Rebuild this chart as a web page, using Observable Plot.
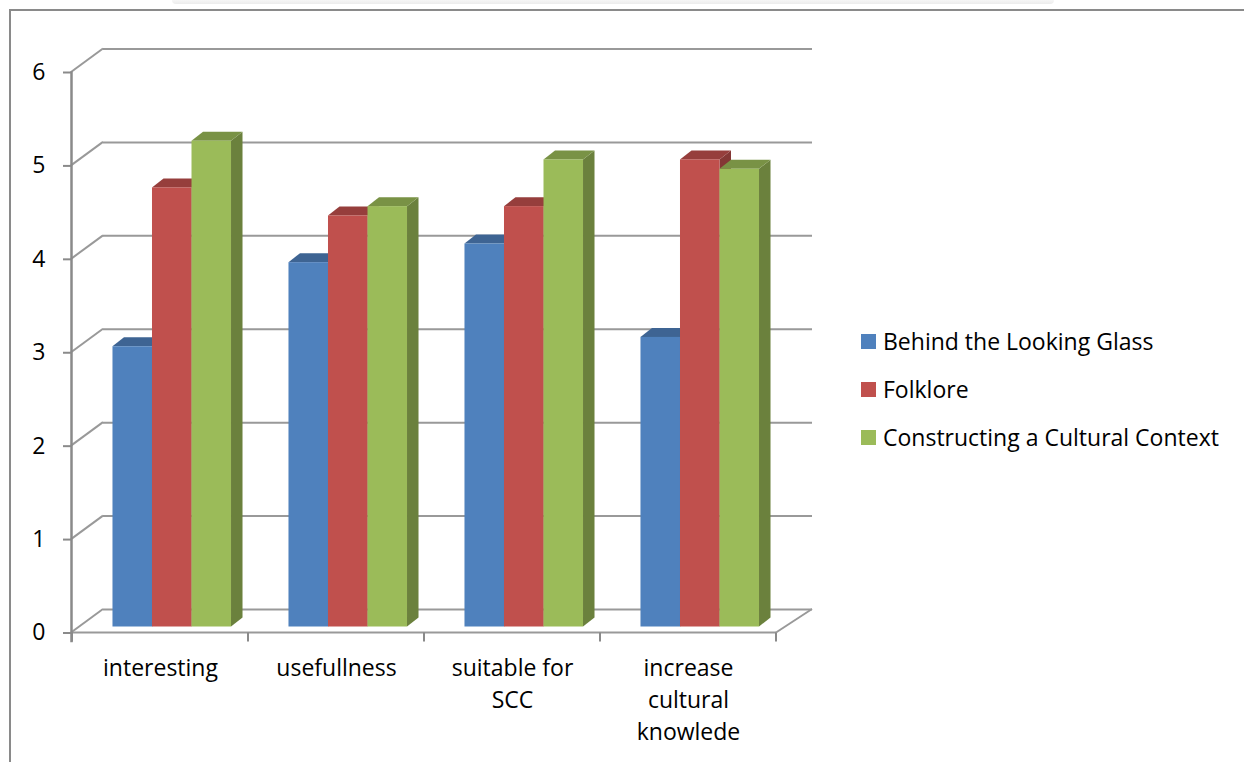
<!DOCTYPE html>
<html>
<head>
<meta charset="utf-8">
<script src="https://cdn.jsdelivr.net/npm/d3@7"></script>
<script src="https://cdn.jsdelivr.net/npm/@observablehq/plot@0.6"></script>
<style>
  html, body { margin: 0; padding: 0; background: #fff; }
  #wrap { position: relative; width: 1244px; height: 762px; overflow: hidden; font-family: "Open Sans", sans-serif; }
  #border { position: absolute; left: 9px; top: 9px; width: 1300px; height: 800px; border-left: 2px solid #8a8a8a; border-top: 2px solid #8a8a8a; }
  #shadow { position: absolute; left: 172px; top: 0; width: 882px; height: 4px; background: linear-gradient(#f6f6f6, #ececec); border-radius: 0 0 6px 6px; }
  #chart { position: absolute; left: 0; top: 0; }
  #legend { position: absolute; left: 861px; top: 0; }
  .item { position: absolute; left: 0; white-space: nowrap; font-size: 23px; color: #000; display: flex; align-items: center; height: 30px; }
  .sw { width: 15px; height: 15px; margin-right: 7px; flex: none; }
</style>
</head>
<body>
<div id="wrap">
  <div id="shadow"></div>
  <div id="border"></div>
  <div id="chart"></div>
  <div id="legend"></div>
</div>
<script>
// ---- data ----
const categories = ["interesting", "usefullness", "suitable for SCC", "increase cultural knowlede"];
const tickLabels = ["interesting", "usefullness", "suitable for\nSCC", "increase\ncultural\nknowlede"];
const seriesNames = ["Behind the Looking Glass", "Folklore", "Constructing a Cultural Context"];
const behindValues = [3.0, 3.9, 4.1, 3.1];
const folkloreValues = [4.7, 4.4, 4.5, 5.0];
const constructingValues = [5.2, 4.5, 5.0, 4.9];
const yTicks = [0, 1, 2, 3, 4, 5, 6];
const seriesColors = ["#4F81BD", "#C0504D", "#9BBB59"];

const seriesValues = [behindValues, folkloreValues, constructingValues];
const data = [];
categories.forEach((c, ci) => {
  seriesNames.forEach((s, si) => {
    data.push({category: c, series: s, si, value: seriesValues[si][ci]});
  });
});

// ---- geometry of the pseudo-3D look ----
const wallDx = 32, wallDy = -23.5;   // back wall offset
const barDx = 11.5, barDy = -9;      // bar depth
const barPlaneDy = -6;               // bars stand slightly behind the front edge
const gridColor = "#999999";
const axisColor = "#8a8a8a";
const svgNS = "http://www.w3.org/2000/svg";

function el(tag, attrs) {
  const e = document.createElementNS(svgNS, tag);
  for (const k in attrs) e.setAttribute(k, attrs[k]);
  return e;
}
function bandwidthOf(s) {
  return typeof s.bandwidth === "function" ? s.bandwidth() : s.bandwidth;
}

// left wall diagonals + floor edges
const wallMark = Plot.ruleY(yTicks, {
  render(index, scales, values, dims) {
    const g = el("g", {stroke: gridColor, "stroke-width": 2, fill: "none"});
    const x0 = dims.marginLeft;
    const x1 = dims.width - dims.marginRight;
    for (const i of index) {
      const y = scales.y(yTicks[i]);
      g.appendChild(el("line", {x1: x0, y1: y, x2: x0 + wallDx, y2: y + wallDy}));
    }
    const y0 = scales.y(0);
    g.appendChild(el("line", {x1: x0, y1: y0, x2: x1, y2: y0}));
    g.appendChild(el("line", {x1: x1, y1: y0, x2: x1 + wallDx + 4, y2: y0 + wallDy}));
    return g;
  }
});

// category boundary ticks on the front floor edge
const xTickMark = Plot.ruleX(categories, {
  render(index, scales, values, dims) {
    const g = el("g", {stroke: axisColor, "stroke-width": 2});
    const y0 = scales.y(0);
    const bw = bandwidthOf(scales.x);
    const xs = categories.map(c => scales.x(c));
    xs.push(xs[xs.length - 1] + bw);
    for (const x of xs) g.appendChild(el("line", {x1: x, y1: y0, x2: x, y2: y0 + 9}));
    return g;
  }
});

// 3D bars
const barMark = Plot.barY(data, {
  x: "category", y: "value", fill: "series",
  render(index, scales, values, dims) {
    const g = el("g", {});
    const bw = bandwidthOf(scales.x);
    const barW = bw * 0.2245;
    const offset = bw * 0.23;
    for (const i of index) {
      const d = data[i];
      const base = d3.color(scales.color(d.series));
      const top = base.darker(0.7).formatHex();
      const side = base.darker(1.05).formatHex();
      const xl = scales.x(d.category) + offset + d.si * barW;
      const xr = xl + barW;
      const yt = scales.y(d.value) + barPlaneDy;
      const yb = scales.y(0) + barPlaneDy;
      g.appendChild(el("polygon", {fill: side, points: `${xr},${yt} ${xr + barDx},${yt + barDy} ${xr + barDx},${yb + barDy} ${xr},${yb}`}));
      g.appendChild(el("polygon", {fill: top, points: `${xl},${yt} ${xr},${yt} ${xr + barDx},${yt + barDy} ${xl + barDx},${yt + barDy}`}));
      g.appendChild(el("rect", {fill: base.formatHex(), x: xl, y: yt, width: barW, height: yb - yt}));
    }
    return g;
  }
});

const chart = Plot.plot({
  width: 1244,
  height: 762,
  marginLeft: 71,
  marginRight: 468,
  marginTop: 72,
  marginBottom: 129.5,
  x: {type: "band", domain: categories, padding: 0, axis: null},
  y: {domain: [0, 6], axis: null},
  color: {domain: seriesNames, range: seriesColors},
  style: {fontFamily: "Open Sans", fontSize: "23px", background: "transparent", overflow: "visible", color: "#000"},
  marks: [
    Plot.ruleY(yTicks, {dx: wallDx, dy: wallDy, insetRight: -4, stroke: gridColor, strokeWidth: 2}),
    wallMark,
    barMark,
    Plot.frame({anchor: "left", stroke: axisColor, strokeWidth: 2.5, insetBottom: -8}),
    Plot.axisY({ticks: yTicks, label: null, tickSize: 8, tickPadding: 18, stroke: axisColor, strokeWidth: 2, fill: "#000", fontSize: 23, tickFormat: d3.format("d")}),
    xTickMark,
    Plot.text(categories, {x: d => d, text: (d, i) => tickLabels[i], frameAnchor: "bottom", lineAnchor: "top", dy: 20, lineHeight: 1.39, fontSize: 23, fill: "#000"})
  ]
});
document.getElementById("chart").appendChild(chart);

// legend
const legend = d3.select("#legend");
const legendCenters = [341, 389, 437];
seriesNames.forEach((s, i) => {
  const item = legend.append("div").attr("class", "item").style("top", (legendCenters[i] - 15) + "px");
  item.append("div").attr("class", "sw").style("background", seriesColors[i]);
  item.append("span").text(s);
});
</script>
</body>
</html>
